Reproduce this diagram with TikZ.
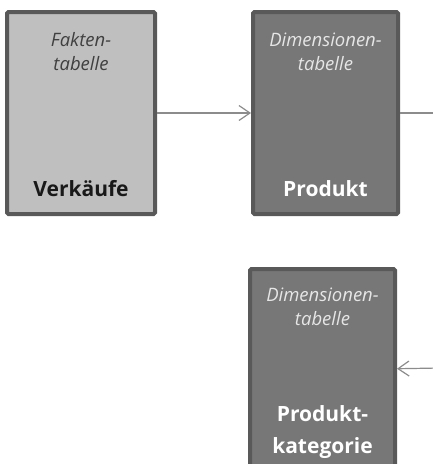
\documentclass[tikz,border=0pt]{standalone}
\usepackage{fontspec}
\setmainfont{Open Sans}
\usetikzlibrary{arrows.meta, positioning}

\definecolor{boxline}{HTML}{595959}
\definecolor{factfill}{HTML}{BFBFBF}
\definecolor{dimfill}{HTML}{777777}
\definecolor{linegray}{HTML}{8C8C8C}
\definecolor{factkind}{HTML}{404040}
\definecolor{dimkind}{HTML}{E6E6E6}

\begin{document}
\begin{tikzpicture}[x=1pt, y=1pt, node distance=94pt]
    \tikzset{
      tablebox/.style={rectangle, draw=boxline, line width=4pt, rounded corners=1.5pt,
        minimum width=148pt, minimum height=202pt, inner sep=0pt},
      fact/.style={tablebox, fill=factfill},
      dim/.style={tablebox, fill=dimfill, minimum width=145pt},
      kind/.style={font=\fontsize{18.5}{24}\selectfont\itshape, align=center, anchor=base, inner sep=0pt},
      title/.style={font=\fontsize{21}{32}\selectfont\bfseries, align=center, anchor=base, inner sep=0pt},
      arrow/.style={draw=linegray, line width=1.2pt, -{Straight Barb[length=11pt, width=15pt]}}
    }
    \useasboundingbox (0,0) rectangle (433,-464);
    \clip (0,0) rectangle (433,-464);
    \node[fact] (verkaeufe) at (81,-113) {};
    \node[dim, right=of verkaeufe] (produkt) {};
    \node[dim, below=51pt of produkt, xshift=-3pt] (kategorie) {};
    \node[kind, text=factkind] (verkaeufe-kind) at ([yshift=-60pt]verkaeufe.north) {Fakten-\\tabelle};
    \node[title, text=black!90] (verkaeufe-name) at ([yshift=20pt]verkaeufe.south) {Verkäufe};
    \node[kind, text=dimkind] (produkt-kind) at ([yshift=-60pt]produkt.north) {Dimensionen-\\tabelle};
    \node[title, text=white] (produkt-name) at ([yshift=20pt]produkt.south) {Produkt};
    \node[kind, text=dimkind] (kategorie-kind) at ([yshift=-58pt]kategorie.north) {Dimensionen-\\tabelle};
    \node[title, text=white] (kategorie-name) at ([yshift=-186pt]kategorie.north) {Produkt-\\kategorie};
    \coordinate (out-produkt) at (440,-113);
    \coordinate (in-kategorie) at (440,-368);
    \draw[arrow] (verkaeufe) -- (produkt);
    \draw[draw=linegray, line width=1.2pt] (produkt) -- (out-produkt);
    \draw[arrow] (in-kategorie) -- (kategorie);
  \end{tikzpicture}
\end{document}
